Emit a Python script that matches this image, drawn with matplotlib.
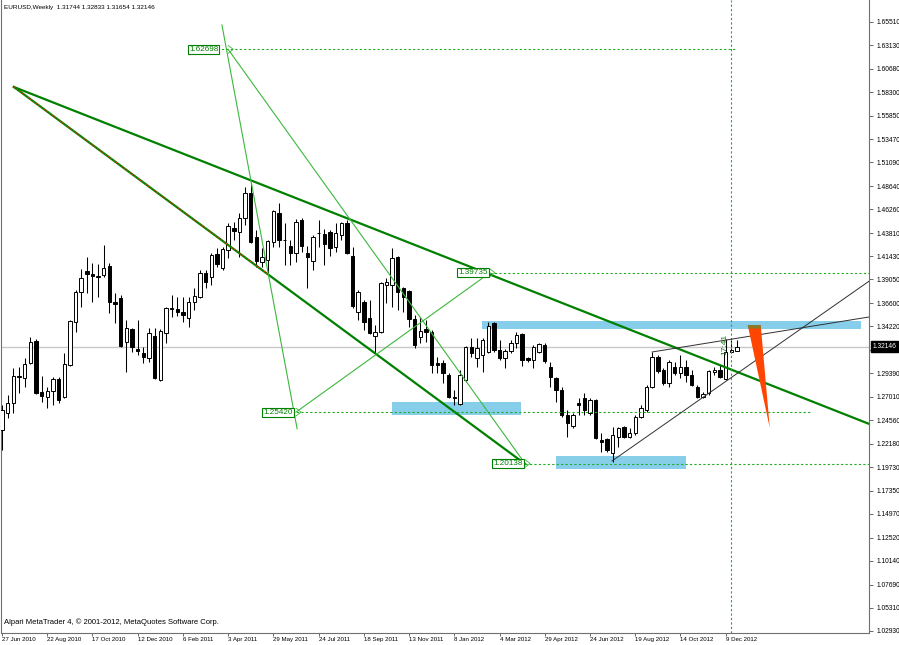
import numpy as np
import matplotlib.pyplot as plt
from matplotlib.patches import Rectangle, Polygon

# weekly EURUSD bars, first bar = week of 27 Jun 2010
opens = np.array([
    1.2358, 1.2533, 1.2636, 1.2903, 1.2893, 1.3047, 1.3273, 1.2749, 1.2697, 1.2759,
    1.2882, 1.2697, 1.3026, 1.3468, 1.3776, 1.3992, 1.3961, 1.3931, 1.3951, 1.4044,
    1.3674, 1.3715, 1.3263, 1.3396, 1.3191, 1.3150, 1.3098, 1.3324, 1.2872, 1.3355,
    1.3612, 1.3602, 1.3571, 1.3509, 1.3674, 1.3725, 1.3972, 1.3931, 1.4167, 1.4023,
    1.4208, 1.4434, 1.4393, 1.4537, 1.4794, 1.4342, 1.4085, 1.4105, 1.4290, 1.4588,
    1.4311, 1.4249, 1.4177, 1.4516, 1.4177, 1.4095, 1.4383, 1.4372, 1.4393, 1.4239,
    1.4362, 1.4485, 1.4146, 1.3571, 1.3674, 1.3509, 1.3324, 1.3365, 1.3848, 1.3848,
    1.4136, 1.3818, 1.3787, 1.3499, 1.3314, 1.3396, 1.3365, 1.3047, 1.3047, 1.2923,
    1.2697, 1.2626, 1.2872, 1.3211, 1.3098, 1.3129, 1.3160, 1.3458, 1.3180, 1.3098,
    1.3170, 1.3252, 1.3345, 1.3098, 1.3078, 1.3160, 1.3232, 1.3006, 1.2893, 1.2769,
    1.2512, 1.2399, 1.2636, 1.2687, 1.2533, 1.2667, 1.2256, 1.2266, 1.2122, 1.2286,
    1.2389, 1.2286, 1.2328, 1.2492, 1.2564, 1.2800, 1.3109, 1.2975, 1.2841, 1.3006,
    1.2944, 1.3006, 1.2923, 1.2800, 1.2697, 1.2739, 1.2954, 1.2975, 1.2882, 1.3160,
    1.31744])
highs = np.array([
    1.2615, 1.2718, 1.2995, 1.3006, 1.3098, 1.3314, 1.3293, 1.2913, 1.2800, 1.2903,
    1.2903, 1.3150, 1.3489, 1.3797, 1.4013, 1.4136, 1.4074, 1.4064, 1.4259, 1.4074,
    1.3766, 1.3746, 1.3489, 1.3406, 1.3489, 1.3211, 1.3406, 1.3406, 1.3396, 1.3622,
    1.3746, 1.3725, 1.3725, 1.3725, 1.3818, 1.4003, 1.4003, 1.4177, 1.4229, 1.4239,
    1.4485, 1.4496, 1.4588, 1.4855, 1.4896, 1.4414, 1.4229, 1.4311, 1.4619, 1.4691,
    1.4485, 1.4311, 1.4527, 1.4537, 1.4249, 1.4362, 1.4516, 1.4424, 1.4414, 1.4485,
    1.4496, 1.4516, 1.4239, 1.3797, 1.3694, 1.3694, 1.3437, 1.3879, 1.3920, 1.4229,
    1.4146, 1.3828, 1.3797, 1.3540, 1.3519, 1.3489, 1.3386, 1.3109, 1.3078, 1.2944,
    1.2769, 1.2975, 1.3222, 1.3304, 1.3304, 1.3304, 1.3468, 1.3468, 1.3283, 1.3191,
    1.3283, 1.3365, 1.3355, 1.3109, 1.3232, 1.3252, 1.3252, 1.3057, 1.2903, 1.2800,
    1.2564, 1.2533, 1.2687, 1.2739, 1.2687, 1.2677, 1.2328, 1.2276, 1.2389, 1.2389,
    1.2399, 1.2379, 1.2512, 1.2615, 1.2821, 1.3160, 1.3129, 1.2995, 1.3078, 1.3057,
    1.3129, 1.3078, 1.2975, 1.2821, 1.2749, 1.2975, 1.3006, 1.3026, 1.3293, 1.3283,
    1.32833])
lows = np.array([
    1.2153, 1.2482, 1.2533, 1.2739, 1.2800, 1.3037, 1.2728, 1.2646, 1.2584, 1.2615,
    1.2636, 1.2687, 1.3016, 1.3365, 1.3622, 1.3766, 1.3674, 1.3725, 1.3931, 1.3561,
    1.3458, 1.3211, 1.2954, 1.3160, 1.3129, 1.3047, 1.3057, 1.2882, 1.2862, 1.3252,
    1.3519, 1.3530, 1.3468, 1.3417, 1.3591, 1.3715, 1.3818, 1.3848, 1.4033, 1.4003,
    1.4126, 1.4311, 1.4136, 1.4465, 1.4280, 1.4033, 1.4033, 1.3972, 1.4239, 1.4239,
    1.4054, 1.4054, 1.4085, 1.4187, 1.3818, 1.4003, 1.4239, 1.4054, 1.4146, 1.4187,
    1.4311, 1.4167, 1.3612, 1.3489, 1.3386, 1.3345, 1.3150, 1.3355, 1.3663, 1.3622,
    1.3591, 1.3571, 1.3417, 1.3201, 1.3252, 1.3263, 1.2944, 1.2944, 1.2841, 1.2687,
    1.2615, 1.2615, 1.2851, 1.3109, 1.3006, 1.2954, 1.3150, 1.3160, 1.3078, 1.2995,
    1.3150, 1.3201, 1.3016, 1.3057, 1.2995, 1.3150, 1.3047, 1.2800, 1.2646, 1.2492,
    1.2286, 1.2379, 1.2512, 1.2512, 1.2512, 1.2266, 1.2132, 1.2132, 1.2030, 1.2184,
    1.2276, 1.2276, 1.2307, 1.2482, 1.2543, 1.2790, 1.2944, 1.2821, 1.2800, 1.2923,
    1.2893, 1.2851, 1.2810, 1.2687, 1.2687, 1.2718, 1.2923, 1.2893, 1.2872, 1.3150,
    1.31654])
closes = np.array([
    1.2564, 1.2636, 1.2913, 1.2908, 1.3037, 1.3263, 1.2739, 1.2708, 1.2759, 1.2882,
    1.2667, 1.3037, 1.3478, 1.3776, 1.3920, 1.3961, 1.3941, 1.3936, 1.4023, 1.3674,
    1.3658, 1.3222, 1.3406, 1.3211, 1.3175, 1.3109, 1.3355, 1.2893, 1.3376, 1.3612,
    1.3602, 1.3571, 1.3540, 1.3674, 1.3735, 1.3972, 1.3879, 1.4157, 1.4064, 1.4218,
    1.4455, 1.4403, 1.4537, 1.4794, 1.4290, 1.4095, 1.4136, 1.4301, 1.4609, 1.4311,
    1.4306, 1.4177, 1.4496, 1.4249, 1.4136, 1.4342, 1.4378, 1.4270, 1.4229, 1.4383,
    1.4485, 1.4177, 1.3633, 1.3776, 1.3468, 1.3355, 1.3365, 1.3869, 1.3879, 1.4126,
    1.3776, 1.3725, 1.3499, 1.3232, 1.3376, 1.3365, 1.3026, 1.3026, 1.2944, 1.2697,
    1.2687, 1.2923, 1.3211, 1.3150, 1.3201, 1.3283, 1.3427, 1.3180, 1.3098, 1.3170,
    1.3252, 1.3335, 1.3078, 1.3078, 1.3211, 1.3242, 1.3067, 1.2903, 1.2769, 1.2512,
    1.2430, 1.2512, 1.2615, 1.2564, 1.2667, 1.2276, 1.2235, 1.2153, 1.2307, 1.2379,
    1.2286, 1.2328, 1.2492, 1.2584, 1.2800, 1.3109, 1.2964, 1.2841, 1.3057, 1.2944,
    1.3006, 1.2923, 1.2821, 1.2697, 1.2728, 1.2964, 1.2975, 1.2903, 1.3160, 1.3180,
    1.32146])

date_labels = ['27 Jun 2010', '22 Aug 2010', '17 Oct 2010', '12 Dec 2010', '6 Feb 2011',
               '3 Apr 2011', '29 May 2011', '24 Jul 2011', '18 Sep 2011', '13 Nov 2011',
               '8 Jan 2012', '4 Mar 2012', '29 Apr 2012', '24 Jun 2012', '19 Aug 2012',
               '14 Oct 2012', '9 Dec 2012']
price_ticks = [1.65510, 1.63130, 1.60680, 1.58300, 1.55850, 1.53470, 1.51090, 1.48640,
               1.46260, 1.43810, 1.41430, 1.39050, 1.36600, 1.34220, 1.31770, 1.29390,
               1.27010, 1.24560, 1.22180, 1.19730, 1.17350, 1.14970, 1.12520, 1.10140,
               1.07690, 1.05310, 1.02930]
last_price = 1.32146

# drawing objects (bar index, price)
fan_top = (2.1, 1.5883)
upper_trend_end = (153.4, 1.2420)
lower_trend_end = (92.5, 1.2010)
red_overlay_end = (47.0, 1.3961)
fib_points = {'1.62698': (40.0, 1.62698), '1.39735': (86.3, 1.39735),
              '1.25420': (52.0, 1.25420), '1.20138': (92.5, 1.20138)}
label_gap = {'1.62698': -7.0, '1.39735': -1.5, '1.25420': -2.5, '1.20138': -1.5}
steep_line = [(38.9, 1.6520), (52.2, 1.2370)]
zones = [(84.9, 151.9, 1.3401, 1.3479), (69.0, 91.8, 1.2512, 1.2646), (98.0, 121.0, 1.1958, 1.2091)]
wedge_low = [(107.9, 1.2040), (153.4, 1.3889)]
wedge_high = [(115.0, 1.3160), (153.4, 1.3520)]
arrow_tri = [(131.9, 1.3437), (134.2, 1.3437), (135.8, 1.2379)]
vline_bar = 129

plt.rcParams['font.family'] = ['Liberation Sans', 'DejaVu Sans']
fs = 4.8
green = '#008000'
light_green = '#3cb83c'
dot_green = '#22aa22'

fig = plt.figure(figsize=(8.99, 6.45), dpi=100)
ax = fig.add_axes([1 / 899, 12 / 645, 868 / 899, 633 / 645])
ax.set_xlim(-0.18, 153.35)
ax.set_ylim(1.0272, 1.6777)

# support / resistance zones behind the bars
for x0, x1, p0, p1 in zones:
    ax.add_patch(Rectangle((x0, p0), x1 - x0, p1 - p0, color='#87ceeb', lw=0, zorder=1))

ax.axhline(last_price, color='#c8c8c8', lw=1, zorder=1.5)

x = np.arange(len(opens))
up = closes >= opens
ax.vlines(x, lows, highs, color='black', lw=0.75, zorder=3)
ax.bar(x, np.maximum(np.abs(closes - opens), 0.0001), bottom=np.minimum(opens, closes),
       width=0.6, color=np.where(up, 'white', 'black'), edgecolor='black', lw=0.7, zorder=4)

# trend lines
ax.plot([fan_top[0], upper_trend_end[0]], [fan_top[1], upper_trend_end[1]], color=green, lw=1.6, zorder=5)
ax.plot([fan_top[0], lower_trend_end[0]], [fan_top[1], lower_trend_end[1]], color=green, lw=1.6, zorder=5)
ax.plot([fan_top[0], red_overlay_end[0]], [fan_top[1], red_overlay_end[1]], color='#ff3300',
        lw=0.6, ls=(0, (2, 2)), zorder=6)

A, C, B, D = (fib_points[k] for k in ['1.62698', '1.39735', '1.25420', '1.20138'])
ax.plot([s[0] for s in steep_line], [s[1] for s in steep_line], color=light_green, lw=0.8, zorder=5)
ax.plot([A[0], D[0]], [A[1], D[1]], color=light_green, lw=0.8, zorder=5)
ax.plot([B[0], C[0]], [B[1], C[1]], color=light_green, lw=0.8, zorder=5)

# dotted price levels
ax.plot([38.0, 130.0], [A[1], A[1]], color=dot_green, lw=0.8, ls=(0, (2, 2)), zorder=5)
ax.plot([C[0], 153.4], [C[1], C[1]], color=dot_green, lw=0.8, ls=(0, (2, 2)), zorder=5)
ax.plot([51.3, 143.0], [B[1], B[1]], color=dot_green, lw=0.8, ls=(0, (2, 2)), zorder=5)
ax.plot([D[0], 153.4], [D[1], D[1]], color=dot_green, lw=0.8, ls=(0, (2, 2)), zorder=5)
ax.axvline(vline_bar, color=dot_green, lw=0.8, ls=(0, (2, 2)), zorder=5)

for label, (bx, py) in fib_points.items():
    ax.annotate(label, xy=(bx, py), xytext=(label_gap[label], 0), textcoords='offset points',
                ha='right', va='center', color=green, fontsize=5.9,
                bbox=dict(boxstyle='square,pad=0.12', fc='white', ec=green, lw=0.8), zorder=7)
    ax.plot([bx, bx + 0.9, bx], [py + 0.004, py, py - 0.004], color=light_green, lw=0.6, zorder=7)

# wedge lines
ax.plot([p[0] for p in wedge_low], [p[1] for p in wedge_low], color='#303030', lw=0.7, zorder=5)
ax.plot([p[0] for p in wedge_high], [p[1] for p in wedge_high], color='#303030', lw=0.7, zorder=5)

# projected move arrow
ax.add_patch(Polygon(arrow_tri, closed=True, color='#ff4500', lw=0, zorder=6))
top = arrow_tri[0][1]
zone_low = zones[0][2]
fr = (top - zone_low) / (top - arrow_tri[2][1])
olive = [arrow_tri[0], arrow_tri[1],
         (arrow_tri[1][0] + fr * (arrow_tri[2][0] - arrow_tri[1][0]), zone_low),
         (arrow_tri[0][0] + fr * (arrow_tri[2][0] - arrow_tri[0][0]), zone_low)]
ax.add_patch(Polygon(olive, closed=True, color='#8a7a2a', lw=0, zorder=6.5))

ax.text(127.9, 1.3235, '17:41', rotation=90, color=green, fontsize=6, ha='center', va='center', zorder=7)

# axes styling
ax.spines['top'].set_visible(False)
for s in ['left', 'right', 'bottom']:
    ax.spines[s].set_color('#707070')
    ax.spines[s].set_linewidth(0.8)
ax.yaxis.tick_right()
ax.set_yticks(price_ticks)
ax.set_yticklabels(['%.5f' % v for v in price_ticks])
ax.set_xticks(np.arange(0, 129, 8))
ax.set_xticklabels(date_labels, ha='left')
ax.tick_params(axis='both', length=3, width=0.6, color='#505050', labelsize=fs, pad=2.5)
ax.tick_params(axis='x', length=2.5, pad=0.5, labelsize=4.4)

ax.annotate('%.5f' % last_price, xy=(1, last_price), xycoords=('axes fraction', 'data'),
            xytext=(2.3, 0), textcoords='offset points', ha='left', va='center', color='white',
            fontsize=fs, bbox=dict(boxstyle='square,pad=0.25', fc='black', ec='black'),
            annotation_clip=False, zorder=10)

ax.text(0.004, 0.988, 'EURUSD,Weekly  1.31744 1.32833 1.31654 1.32146', transform=ax.transAxes,
        fontsize=4.6, va='center', ha='left')
ax.text(0.004, 0.017, 'Alpari MetaTrader 4, \u00a9 2001-2012, MetaQuotes Software Corp.',
        transform=ax.transAxes, fontsize=5.5, va='center', ha='left')

fig.savefig('out.png', dpi=100)
